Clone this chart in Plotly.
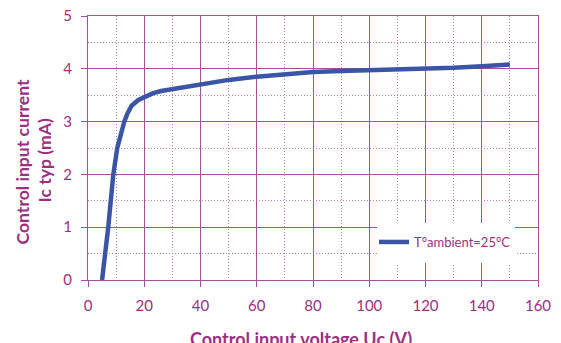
import plotly.graph_objects as go

voltage = [5, 6, 7.2, 8, 9, 10.4, 12, 12.9, 14, 15.5, 17.9, 20, 23.2, 26, 31.5,
           40, 50, 60, 70, 80, 90, 100, 110, 120, 130, 140, 150]
current = [0, 0.4, 1.0, 1.45, 2.0, 2.5, 2.85, 3.0, 3.15, 3.3, 3.41, 3.46, 3.54, 3.58, 3.63,
           3.72, 3.79, 3.85, 3.9, 3.94, 3.96, 3.97, 3.98, 4.0, 4.02, 4.05, 4.08]
series_name = "T°ambient=25°C"
x_title = "Control input voltage Uc (V)"
y_title_1 = "Control input current"
y_title_2 = "Ic typ (mA)"

PURPLE = "#9c2f80"
GRID = "#a8509f"
GRID_MINOR = "#c07fba"
BLUE = "#3b55a6"
FONT = "Lato"

# page body has an 8px margin; compensate so the plot lands where the reference has it
OFF = 8
W, H = 561 - OFF, 343 - OFF
L, R, T, B = 88 - OFF, 23, 16 - OFF, 63
PW, PH = W - L - R, H - T - B  # 450 x 264


def px_x(p):
    return (p - 88) / PW


def px_y(p):
    return (280 - p) / PH


fig = go.Figure()
fig.add_trace(go.Scatter(x=voltage, y=current, mode="lines", name=series_name,
                         line=dict(color=BLUE, width=4.5)))

axis_common = dict(
    showgrid=True, gridcolor=GRID, gridwidth=1.3,
    showline=True, linecolor=GRID, linewidth=1.3, mirror=True,
    ticks="outside", ticklen=6, tickcolor=GRID, tickwidth=1.3,
    tickfont=dict(family=FONT, size=15, color=PURPLE),
    ticklabeloverflow="allow",
    zeroline=False,
)
fig.update_xaxes(range=[0, 160], dtick=20, tick0=0, ticklabelstandoff=6,
                 minor=dict(dtick=10, showgrid=True, gridcolor=GRID_MINOR, griddash="1px,2px", gridwidth=1),
                 **axis_common)
fig.update_yaxes(range=[0, 5], dtick=1, tick0=0, ticklabelstandoff=6,
                 minor=dict(dtick=0.5, showgrid=True, gridcolor=GRID_MINOR, griddash="1px,2px", gridwidth=1),
                 **axis_common)

# white legend box covering the grid
fig.add_shape(type="rect", xref="paper", yref="paper",
              x0=px_x(377), x1=px_x(515), y0=px_y(263), y1=px_y(223),
              fillcolor="white", line=dict(width=0), layer="above")

fig.update_layout(
    width=W, height=H,
    margin=dict(l=L, r=R, t=T, b=B, autoexpand=False),
    paper_bgcolor="white", plot_bgcolor="white",
    showlegend=True,
    legend=dict(x=px_x(374), y=px_y(242), xanchor="left", yanchor="middle",
                bgcolor="rgba(0,0,0,0)", font=dict(family=FONT, size=13, color=PURPLE)),
    annotations=[
        dict(text=x_title, xref="paper", yref="paper", x=px_x(301), y=px_y(326),
             xanchor="center", yanchor="top", showarrow=False,
             font=dict(family=FONT, size=18, color=PURPLE, weight="bold")),
        dict(text=y_title_1, xref="paper", yref="paper", x=px_x(21.5), y=px_y(162),
             xanchor="center", yanchor="middle", showarrow=False, textangle=-90,
             font=dict(family=FONT, size=17.6, color=PURPLE, weight="bold")),
        dict(text=y_title_2, xref="paper", yref="paper", x=px_x(44), y=px_y(160.5),
             xanchor="center", yanchor="middle", showarrow=False, textangle=-90,
             font=dict(family=FONT, size=17.6, color=PURPLE, weight="bold")),
    ],
)

fig.write_html("out.html")
